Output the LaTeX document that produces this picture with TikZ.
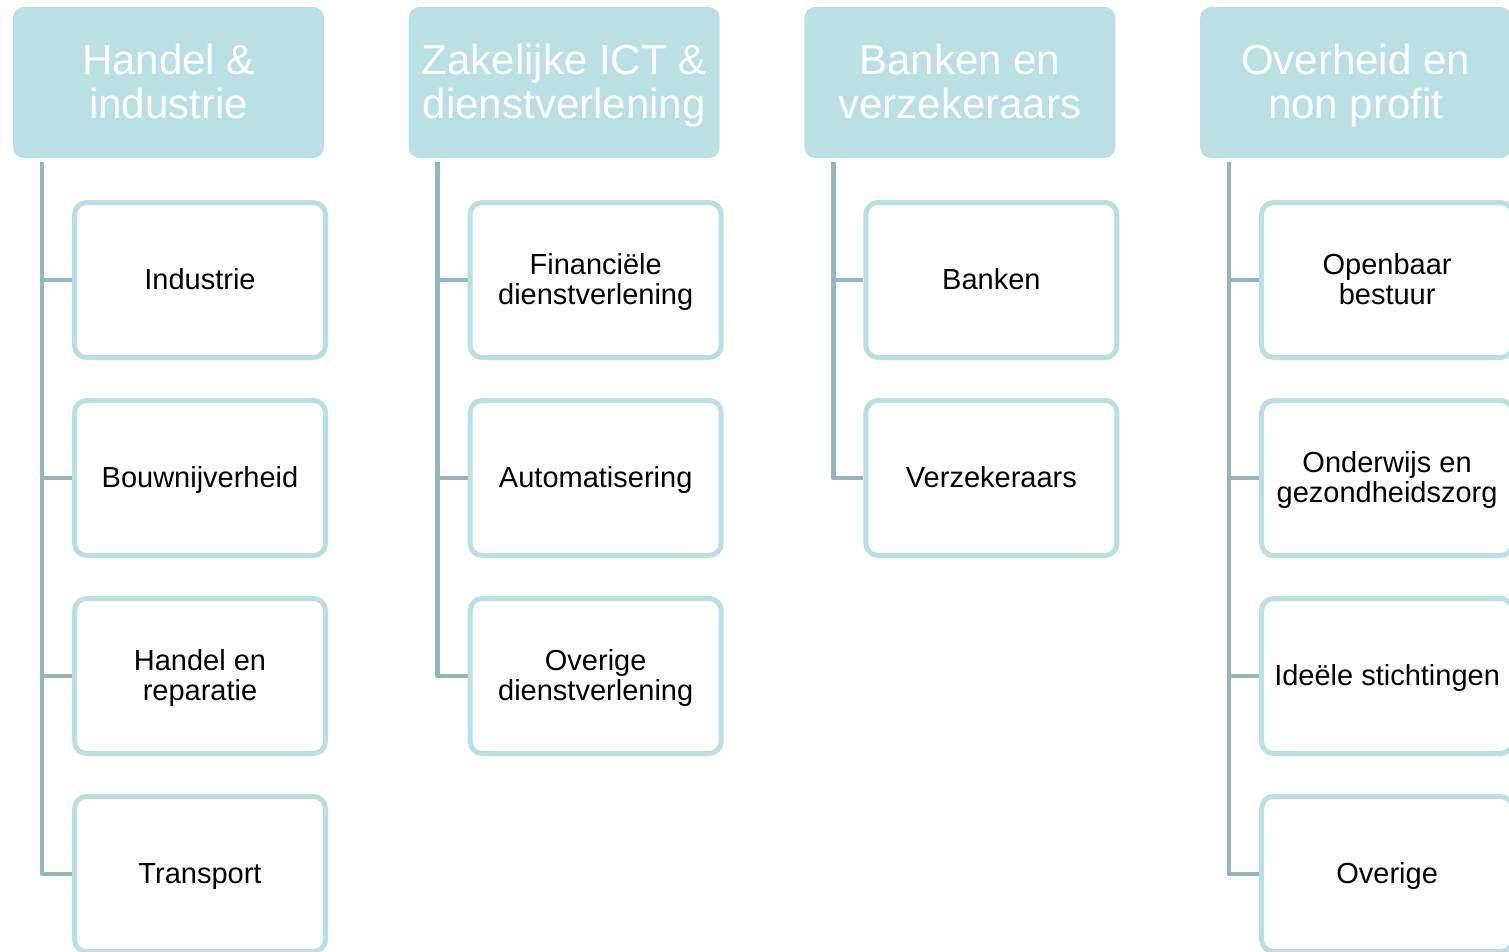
\documentclass[tikz,border=0pt]{standalone}
\usepackage{fontspec}
\setmainfont{Liberation Sans}
\usepackage{xcolor}
\usepackage{tikz}
\usetikzlibrary{positioning}
\definecolor{headfill}{RGB}{187,224,227}
\definecolor{boxline}{RGB}{187,224,227}
\definecolor{linkline}{RGB}{150,181,185}
\newcommand{\ls}{\rule[-0.25em]{0pt}{1.15em}}
\newcommand{\br}{\ls\\}

\begin{document}
\begin{tikzpicture}[x=1pt, y=1pt]

                \def\d{38pt}
                \def\g{84.7pt}

                % Styles of the headers and of the boxes below them
                \tikzset{
                    head/.style={fill=headfill, rounded corners=11pt,
                        minimum width=311pt, minimum height=151pt,
                        outer sep=0pt, text=white, align=center,
                        font=\fontsize{42}{44}\selectfont,
                        execute at end node=\ls},
                    item/.style={draw=boxline, line width=5pt, fill=white,
                        rounded corners=12pt, minimum width=251pt,
                        minimum height=155pt, inner sep=2pt, align=center,
                        font=\fontsize{29}{30}\selectfont,
                        execute at end node=\ls},
                    link/.style={draw=linkline, line width=4.5pt,
                        line join=round}
                }

                \useasboundingbox (0, 0) rectangle (1509, -951);
                \clip (0, 0) rectangle (1509, -951);

                \begin{scope}

                    \node (h1) [head] at (168.5, -82.5)
                    {Handel \&\br industrie};
                    \node (h2) [head, right=\g of h1]
                    {Zakelijke ICT \&\br dienstverlening};
                    \node (h3) [head, right=\g of h2]
                    {Banken en\br verzekeraars};
                    \node (h4) [head, right=\g of h3]
                    {Overheid en\br non profit};

                    \node (i11) [item, below right=42pt and 59pt of h1.south west,
                        anchor=north west] {Industrie};
                    \node (i12) [item, below=\d of i11] {Bouwnijverheid};
                    \node (i13) [item, below=\d of i12] {Handel en\br reparatie};
                    \node (i14) [item, below=\d of i13] {Transport};

                    \node (i21) [item, below right=42pt and 59pt of h2.south west,
                        anchor=north west] {Financiële\br dienstverlening};
                    \node (i22) [item, below=\d of i21] {Automatisering};
                    \node (i23) [item, below=\d of i22] {Overige\br dienstverlening};

                    \node (i31) [item, below right=42pt and 59pt of h3.south west,
                        anchor=north west] {Banken};
                    \node (i32) [item, below=\d of i31] {Verzekeraars};

                    \node (i41) [item, below right=42pt and 59pt of h4.south west,
                        anchor=north west] {Openbaar\br bestuur};
                    \node (i42) [item, below=\d of i41] {Onderwijs en\br gezondheidszorg};
                    \node (i43) [item, below=\d of i42] {Ideële stichtingen};
                    \node (i44) [item, below=\d of i43] {Overige};
                \end{scope}

                \begin{scope}[link]
                    \draw ([xshift=29pt, yshift=-4pt]h1.south west) |- (i11.west);
                    \draw ([xshift=29pt, yshift=-4pt]h1.south west) |- (i12.west);
                    \draw ([xshift=29pt, yshift=-4pt]h1.south west) |- (i13.west);
                    \draw ([xshift=29pt, yshift=-4pt]h1.south west) |- (i14.west);
                    \draw ([xshift=29pt, yshift=-4pt]h2.south west) |- (i21.west);
                    \draw ([xshift=29pt, yshift=-4pt]h2.south west) |- (i22.west);
                    \draw ([xshift=29pt, yshift=-4pt]h2.south west) |- (i23.west);
                    \draw ([xshift=29pt, yshift=-4pt]h3.south west) |- (i31.west);
                    \draw ([xshift=29pt, yshift=-4pt]h3.south west) |- (i32.west);
                    \draw ([xshift=29pt, yshift=-4pt]h4.south west) |- (i41.west);
                    \draw ([xshift=29pt, yshift=-4pt]h4.south west) |- (i42.west);
                    \draw ([xshift=29pt, yshift=-4pt]h4.south west) |- (i43.west);
                    \draw ([xshift=29pt, yshift=-4pt]h4.south west) |- (i44.west);
                \end{scope}

\end{tikzpicture}
\end{document}
